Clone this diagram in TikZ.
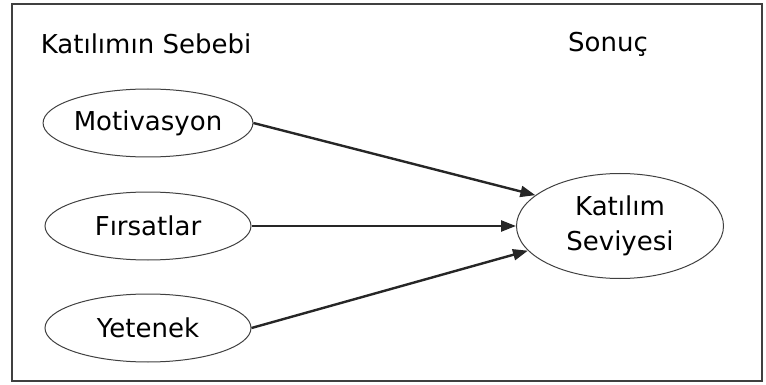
\documentclass[tikz,border=0pt]{standalone}
\usepackage{fontspec}
\setmainfont{DejaVu Sans}
\usetikzlibrary{shapes.geometric,arrows.meta}

\begin{document}
\begin{tikzpicture}[x=1pt,y=-1pt,
    every node/.style={font=\fontsize{26}{35}\selectfont},
    cause/.style={draw=black!75,line width=1pt,ellipse,minimum width=206pt,minimum height=68pt,inner sep=0pt},
    effect/.style={cause,minimum width=207pt,minimum height=105pt,align=center},
    link/.style={line width=2.4pt,draw=black!85,-{Triangle[length=15pt,width=11pt]}}]

    \useasboundingbox (0,0) rectangle (766,385);

    % the frame
    \draw[line width=2pt,black!75] (12,4) rectangle (762,381);

    % these are the headings
    \node (head1) at (146,44) {Katılımın Sebebi};
    \node (head2) at (608,44) {Sonuç};

    % these are the causes
    \node[cause] (mot) at (148,123) {Motivasyon};
    \node[cause] (fir) at (148,226) {Fırsatlar};
    \node[cause] (yet) at (148,328) {Yetenek};

    % the result
    \node[effect] (res) at (620,226) {Katılım\\Seviyesi};

    \draw[link] (mot.east) -- (res.160);
    \draw[link] (fir.east) -- (res.west);
    \draw[link] (yet.east) -- (res.195);

\end{tikzpicture}
\end{document}
